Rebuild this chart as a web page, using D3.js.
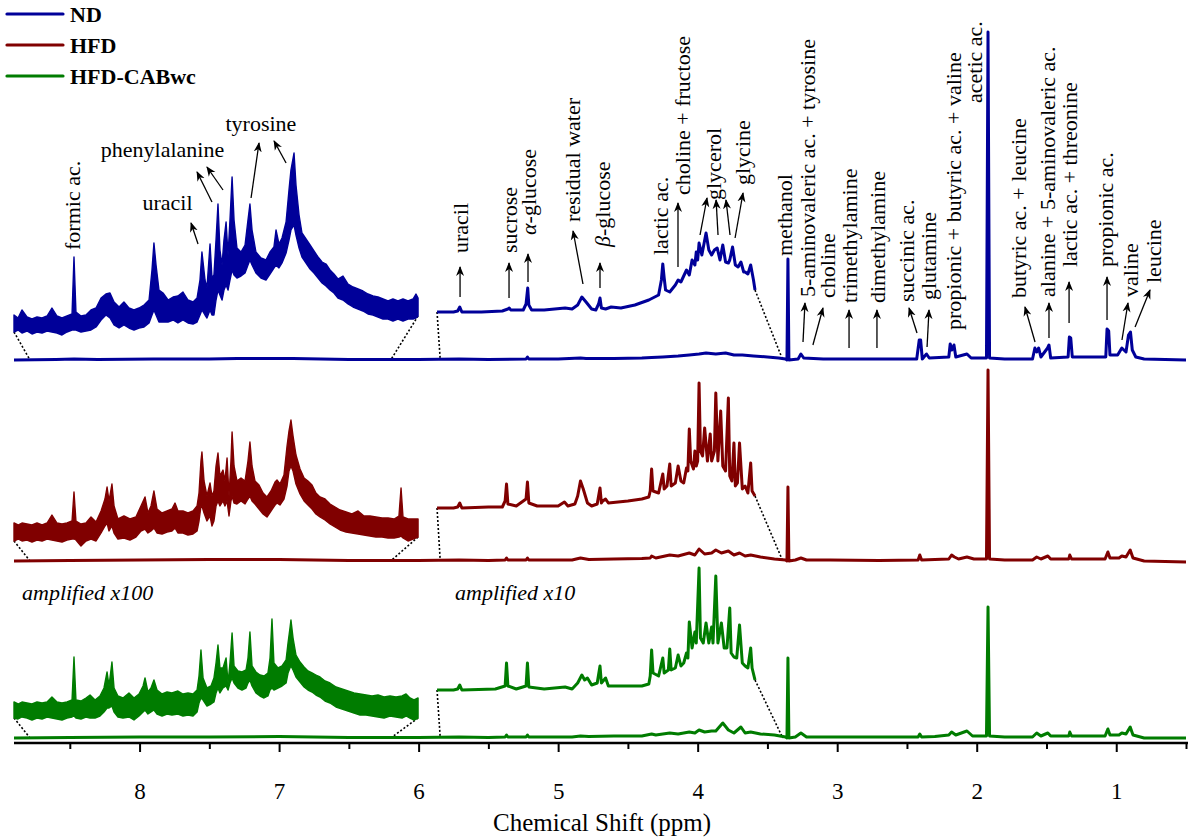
<!DOCTYPE html>
<html>
<head>
<meta charset="utf-8">
<script src="https://cdn.jsdelivr.net/npm/d3@7"></script>
<style>
  body { margin: 0; background: #fff; }
  svg { display: block; font-family: "Liberation Serif", "DejaVu Serif", serif; }
  svg text { font-family: "Liberation Serif", "DejaVu Serif", serif; }
</style>
</head>
<body>
<svg id="chart" width="1188" height="838"></svg>
<script>
// ---- data (chemical shift in ppm, intensity in display units above each trace baseline) ----
const groups = ["ND", "HFD", "HFD-CABwc"];
const colors = ["#000099", "#800000", "#007c00"];
const majorTicks = [8, 7, 6, 5, 4, 3, 2, 1];
const minorTicks = [8.5, 7.5, 6.5, 5.5, 4.5, 3.5, 2.5, 1.5, 0.5];

// full spectra
const ndMain = [[8.90,0],[8.6,0.5],[8.47,1],[8.3,0.5],[7.9,1],[7.5,1],[7.3,1.5],[6.9,1.5],[6.5,0.5],[6.0,0.5],[5.71,1],[5.5,0.5],[5.23,1],[5.22,3],[5.21,1],[5.0,1],[4.84,2],[4.80,1.5],[4.6,1.5],[4.40,2],[4.33,2.5],[4.25,3],[4.14,4],[4.06,5],[3.99,6],[3.94,7],[3.87,6],[3.80,7],[3.74,5],[3.68,5],[3.60,4],[3.50,3],[3.42,2],[3.37,1],[3.36,0],[3.353,101],[3.346,0],[3.28,1],[3.26,6],[3.24,2],[3.10,1],[2.9,1],[2.7,1],[2.43,1],[2.412,20],[2.402,20],[2.39,1],[2.36,6],[2.34,2],[2.20,3],[2.19,16],[2.178,10],[2.163,15],[2.15,3],[2.07,6],[2.04,2],[1.93,2],[1.919,328],[1.908,2],[1.8,1],[1.6,1],[1.583,12],[1.570,8],[1.556,12],[1.54,3],[1.492,12],[1.482,15],[1.47,2],[1.345,3],[1.336,23],[1.326,22],[1.315,3],[1.075,3],[1.066,31],[1.054,29],[1.045,5],[0.99,5],[0.96,12],[0.93,8],[0.912,25],[0.898,28],[0.885,10],[0.86,3],[0.8,1],[0.5,0]];
const hfdMain = [[8.90,0],[8.5,0.5],[8.0,1],[7.5,1.5],[7.0,1.5],[6.5,0.5],[6.0,0.5],[5.71,1],[5.5,0.5],[5.38,1],[5.37,3],[5.36,1],[5.23,1],[5.22,3],[5.21,1],[4.9,1],[4.84,3],[4.78,1.5],[4.6,2],[4.4,2.5],[4.34,3],[4.33,5],[4.30,3],[4.20,6],[4.14,5],[4.06,8],[4.02,6],[3.99,12],[3.95,7],[3.90,8],[3.87,11],[3.83,8],[3.78,10],[3.74,6],[3.70,8],[3.66,5],[3.62,6],[3.55,4],[3.45,2],[3.37,1],[3.36,0],[3.353,74],[3.346,0],[3.30,1],[3.26,3],[3.22,1],[3.05,1],[2.7,0.5],[2.42,1],[2.408,6],[2.395,1],[2.3,1.5],[2.2,2],[2.18,6],[2.16,4],[2.13,2],[2.07,4],[2.02,2],[1.93,2],[1.919,191],[1.908,2],[1.8,1],[1.6,1],[1.57,4],[1.54,2],[1.49,5],[1.47,2],[1.34,2],[1.333,6],[1.32,2],[1.08,2],[1.06,9],[1.045,3],[0.98,3],[0.96,5],[0.93,4],[0.90,11],[0.88,3],[0.8,0],[0.5,-1]];
const cabMain = [[8.90,0],[8.5,0.5],[8.0,1],[7.5,1],[7.0,1.5],[6.5,0.5],[6.0,0.5],[5.71,1],[5.5,0.5],[5.38,1],[5.37,3],[5.36,1],[5.23,1],[5.22,3],[5.21,1],[4.9,1],[4.84,2],[4.78,1.5],[4.6,2],[4.4,2],[4.33,4],[4.30,3],[4.20,5],[4.14,4],[4.06,6],[4.02,5],[3.99,8],[3.95,6],[3.90,7],[3.87,7],[3.82,15],[3.78,8],[3.74,5],[3.69,11],[3.66,5],[3.62,6],[3.55,4],[3.45,3],[3.37,1],[3.36,0],[3.353,80],[3.346,0],[3.30,1],[3.26,5],[3.22,1],[3.05,1],[2.7,1],[2.42,1],[2.408,4],[2.395,1],[2.3,1.5],[2.2,3],[2.18,6],[2.15,3],[2.07,7],[2.03,2],[1.93,2],[1.919,131],[1.908,2],[1.8,1],[1.6,1],[1.57,5],[1.54,2],[1.49,5],[1.47,2],[1.34,2],[1.333,6],[1.32,2],[1.08,2],[1.06,9],[1.045,3],[0.98,3],[0.96,5],[0.93,4],[0.90,11],[0.88,3],[0.8,0],[0.5,0]];

// amplified x100 region, [ppm, low, high] of the noisy trace
const ndX100 = [[8.90,28,45],[8.871,30,42],[8.843,27,50],[8.807,29,43],[8.771,26,41],[8.735,28,43],[8.699,27,42],[8.663,29,44],[8.628,28,52],[8.592,27,44],[8.556,25,42],[8.520,28,44],[8.484,30,46],[8.470,30,103],[8.456,30,48],[8.420,28,44],[8.384,29,45],[8.348,30,50],[8.312,33,52],[8.276,40,62],[8.241,45,66],[8.212,42,67],[8.183,35,58],[8.147,32,53],[8.112,35,58],[8.076,32,52],[8.040,30,50],[8.004,32,52],[7.968,33,55],[7.932,37,60],[7.911,45,90],[7.897,50,117],[7.882,45,95],[7.861,38,70],[7.832,38,67],[7.796,38,60],[7.760,40,63],[7.725,37,64],[7.689,40,68],[7.653,37,60],[7.617,36,58],[7.588,38,62],[7.567,45,80],[7.553,50,108],[7.531,45,80],[7.517,42,72],[7.495,50,116],[7.481,45,82],[7.467,45,85],[7.452,60,120],[7.438,70,156],[7.424,65,110],[7.409,60,95],[7.395,70,120],[7.380,75,138],[7.366,70,105],[7.352,80,140],[7.337,90,183],[7.323,85,140],[7.302,82,112],[7.273,84,108],[7.244,87,115],[7.223,95,140],[7.209,100,156],[7.194,95,130],[7.166,87,108],[7.130,82,102],[7.094,80,100],[7.065,86,108],[7.037,92,113],[7.022,95,130],[7.001,92,116],[6.979,97,122],[6.950,107,138],[6.929,120,170],[6.915,130,190],[6.893,135,207],[6.879,125,175],[6.857,112,145],[6.836,103,127],[6.807,97,121],[6.778,91,115],[6.750,87,109],[6.721,82,103],[6.692,77,98],[6.664,74,96],[6.635,70,90],[6.607,67,86],[6.578,62,81],[6.542,60,84],[6.506,56,76],[6.470,53,73],[6.434,51,71],[6.399,49,69],[6.363,46,66],[6.327,45,64],[6.291,43,63],[6.255,41,61],[6.219,41,59],[6.184,39,61],[6.148,41,59],[6.112,39,61],[6.076,41,59],[6.040,41,61],[6.019,42,66],[6.004,44,62]];
const hfdX100 = [[8.90,20,38],[8.871,22,36],[8.843,20,38],[8.807,21,37],[8.771,19,36],[8.735,21,38],[8.699,20,36],[8.663,22,38],[8.628,21,46],[8.592,20,38],[8.556,19,37],[8.520,21,38],[8.484,22,40],[8.470,22,69],[8.456,21,40],[8.420,15,37],[8.384,20,38],[8.348,22,44],[8.312,20,39],[8.276,28,50],[8.248,35,62],[8.233,38,74],[8.219,30,60],[8.198,35,77],[8.183,28,55],[8.155,22,42],[8.112,23,45],[8.069,21,42],[8.026,24,44],[7.990,30,55],[7.961,32,64],[7.940,28,48],[7.918,30,55],[7.897,33,70],[7.875,28,52],[7.839,27,48],[7.803,29,50],[7.768,30,52],[7.746,33,58],[7.725,28,50],[7.689,28,50],[7.653,26,48],[7.617,27,50],[7.588,30,55],[7.574,40,68],[7.560,55,100],[7.553,55,109],[7.538,48,80],[7.517,40,65],[7.495,45,78],[7.481,35,65],[7.467,40,70],[7.452,55,95],[7.438,60,108],[7.424,55,85],[7.402,60,91],[7.388,55,80],[7.373,60,103],[7.359,45,65],[7.345,60,100],[7.337,65,129],[7.323,58,95],[7.302,57,80],[7.273,60,83],[7.244,57,80],[7.223,62,100],[7.209,65,119],[7.194,60,95],[7.173,57,80],[7.144,52,76],[7.115,47,68],[7.087,44,64],[7.058,50,70],[7.029,56,79],[7.015,58,81],[6.994,56,77],[6.965,62,86],[6.943,75,115],[6.929,90,130],[6.915,95,141],[6.900,90,125],[6.879,77,106],[6.850,67,92],[6.821,60,83],[6.793,56,80],[6.764,52,76],[6.736,47,68],[6.707,44,64],[6.671,41,62],[6.635,37,57],[6.599,34,54],[6.563,31,51],[6.520,29,49],[6.478,28,47],[6.434,27,50],[6.392,26,45],[6.349,25,45],[6.306,24,44],[6.262,24,43],[6.219,23,43],[6.176,23,42],[6.141,24,45],[6.126,25,73],[6.112,23,44],[6.076,20,42],[6.040,22,42],[6.004,24,42]];
const cabX100 = [[8.90,20,36],[8.871,19,34],[8.843,21,36],[8.807,20,35],[8.771,18,34],[8.735,20,36],[8.699,19,35],[8.663,21,36],[8.628,20,41],[8.592,19,36],[8.556,18,35],[8.520,20,36],[8.484,21,38],[8.470,22,81],[8.456,20,38],[8.420,19,37],[8.384,21,40],[8.355,20,43],[8.319,20,38],[8.284,22,42],[8.255,26,50],[8.233,30,66],[8.219,30,52],[8.198,32,76],[8.183,26,50],[8.155,21,42],[8.119,20,40],[8.076,21,45],[8.040,18,40],[8.004,22,44],[7.975,26,52],[7.961,28,60],[7.940,24,46],[7.918,26,50],[7.897,28,58],[7.875,24,48],[7.839,22,44],[7.803,24,46],[7.768,23,45],[7.725,24,47],[7.689,22,44],[7.653,23,45],[7.617,22,44],[7.588,26,48],[7.574,35,62],[7.560,40,88],[7.545,38,60],[7.517,32,50],[7.488,34,52],[7.467,36,60],[7.452,45,75],[7.438,50,93],[7.424,45,70],[7.402,50,70],[7.380,52,80],[7.366,48,55],[7.352,55,75],[7.337,60,105],[7.323,55,72],[7.295,50,67],[7.266,48,66],[7.237,50,68],[7.223,55,80],[7.209,58,106],[7.194,52,72],[7.166,45,66],[7.137,42,63],[7.108,40,62],[7.080,42,65],[7.065,48,80],[7.051,50,119],[7.037,48,75],[7.008,50,70],[6.979,52,72],[6.950,55,78],[6.936,65,95],[6.922,70,110],[6.915,72,118],[6.900,68,100],[6.879,61,83],[6.850,56,76],[6.821,51,71],[6.793,48,67],[6.764,46,65],[6.736,43,63],[6.707,41,61],[6.671,37,57],[6.635,35,55],[6.592,31,51],[6.549,29,49],[6.506,27,47],[6.463,25,45],[6.420,23,44],[6.377,23,43],[6.334,22,42],[6.291,21,43],[6.248,20,41],[6.205,22,42],[6.162,21,41],[6.119,20,42],[6.090,22,44],[6.062,20,40],[6.033,18,38],[6.004,20,40]];

// amplified x10 region, [ppm, value]
const ndX10 = [[5.868,48],[5.75,48],[5.72,49],[5.705,53],[5.69,48],[5.55,48],[5.40,49],[5.36,51],[5.35,52],[5.34,50],[5.25,50],[5.23,56],[5.218,72],[5.21,55],[5.19,50],[5.10,50],[4.95,52],[4.90,51],[4.86,55],[4.83,63],[4.80,58],[4.76,51],[4.73,50],[4.71,56],[4.70,62],[4.69,52],[4.66,51],[4.62,53],[4.55,52],[4.45,55],[4.35,60],[4.28,65],[4.26,80],[4.25,96],[4.24,82],[4.23,70],[4.20,68],[4.16,75],[4.14,80],[4.12,78],[4.08,90],[4.06,85],[4.04,100],[4.02,95],[4.01,108],[4.00,100],[3.99,117],[3.97,105],[3.94,127],[3.92,110],[3.90,105],[3.88,110],[3.86,112],[3.84,100],[3.82,115],[3.80,98],[3.78,97],[3.77,100],[3.75,113],[3.73,95],[3.71,93],[3.69,98],[3.67,88],[3.66,88],[3.64,86],[3.62,95],[3.60,80],[3.589,70]];
const hfdX10 = [[5.868,53],[5.75,53],[5.72,54],[5.705,58],[5.69,53],[5.50,54],[5.40,54],[5.38,60],[5.37,77],[5.36,57],[5.30,55],[5.23,62],[5.22,79],[5.21,58],[5.15,55],[5.00,55],[4.955,59],[4.93,55],[4.88,57],[4.86,65],[4.84,80],[4.82,72],[4.79,58],[4.76,55],[4.72,57],[4.70,73],[4.69,58],[4.68,60],[4.66,62],[4.64,58],[4.50,60],[4.40,62],[4.35,64],[4.34,70],[4.33,92],[4.32,70],[4.28,68],[4.25,87],[4.24,72],[4.22,75],[4.20,97],[4.19,75],[4.16,78],[4.14,95],[4.12,80],[4.10,78],[4.08,93],[4.07,90],[4.06,132],[4.05,100],[4.03,92],[4.02,110],[4.01,95],[4.00,100],[3.99,178],[3.98,110],[3.965,105],[3.95,133],[3.93,100],[3.91,127],[3.90,100],[3.88,110],[3.87,168],[3.855,100],[3.835,150],[3.82,95],[3.80,90],[3.78,163],[3.77,85],[3.755,80],[3.74,118],[3.73,75],[3.715,78],[3.70,118],[3.68,72],[3.66,75],[3.64,68],[3.62,98],[3.61,70],[3.589,65]];
const cabX10 = [[5.868,48],[5.75,48],[5.72,49],[5.705,53],[5.69,48],[5.45,49],[5.38,52],[5.37,75],[5.36,52],[5.30,49],[5.23,52],[5.22,75],[5.21,51],[5.10,49],[4.95,51],[4.90,49],[4.86,55],[4.83,63],[4.81,58],[4.79,60],[4.76,53],[4.72,55],[4.70,72],[4.69,55],[4.66,60],[4.64,52],[4.50,52],[4.40,52],[4.35,54],[4.34,62],[4.33,88],[4.32,65],[4.28,62],[4.25,80],[4.24,65],[4.21,68],[4.20,89],[4.19,68],[4.16,70],[4.14,83],[4.12,72],[4.10,75],[4.08,85],[4.07,80],[4.06,116],[4.04,90],[4.02,106],[4.01,95],[3.99,170],[3.98,100],[3.96,95],[3.94,115],[3.92,95],[3.90,111],[3.89,95],[3.87,162],[3.855,95],[3.83,115],[3.81,90],[3.79,90],[3.77,130],[3.76,85],[3.74,81],[3.72,80],[3.70,113],[3.68,75],[3.66,72],[3.64,70],[3.62,90],[3.61,70],[3.589,58]];

// where the dotted guide lines meet the full spectrum (x100 left, x100 right, x10 left, x10 right)
const guideFeet = [8.785, 6.20, 5.845, 3.39];

// assignments: rotated labels [text, ppm, bottom y]
const rotLabels = [
  ["formic ac.", 8.484, 250], ["uracil", 5.703, 253], ["sucrose", 5.352, 253],
  ["α|-glucose", 5.216, 235], ["residual water", 4.901, 222], ["β|-glucose", 4.686, 247],
  ["lactic ac.", 4.270, 255], ["choline + fructose", 4.112, 195], ["glycerol", 3.890, 200],
  ["glycine", 3.682, 185], ["methanol", 3.381, 256], ["5-aminovaleric ac. + tyrosine", 3.216, 297],
  ["choline", 3.073, 298], ["trimethylamine", 2.915, 303], ["dimethylamine", 2.715, 303],
  ["succinic ac.", 2.507, 302], ["glutamine", 2.349, 300], ["propionic + butyric ac. + valine", 2.170, 330],
  ["acetic ac.", 2.019, 103], ["butyric ac. + leucine", 1.704, 298], ["alanine + 5-aminovaleric ac.", 1.496, 297],
  ["lactic ac. + threonine", 1.338, 267], ["propionic ac.", 1.080, 267], ["valine", 0.901, 297],
  ["leucine", 0.737, 283]
];
// horizontal labels [text, ppm of centre, baseline y]
const flatLabels = [["phenylalanine", 7.836, 157], ["uracil", 7.80, 210], ["tyrosine", 7.13, 131]];
// arrows [ppm tail, y tail, ppm tip, y tip]
const arrows = [
  [7.481,202,7.588,172],[7.402,190,7.517,167],[7.581,244,7.631,223],[7.201,198,7.144,143],[6.950,163,7.036,141],
  [5.703,297,5.703,267],[5.352,298,5.352,263],[5.216,282,5.216,254],[4.822,284,4.893,231],[4.700,288,4.700,263],
  [4.141,267,4.141,203],[3.983,235,3.933,198],[3.854,235,3.868,200],[3.768,235,3.797,200],[3.732,238,3.675,193],
  [3.245,342,3.231,303],[3.174,345,3.102,308],[2.915,348,2.915,310],[2.715,348,2.715,310],[2.428,333,2.485,308],
  [2.356,347,2.342,310],[1.582,342,1.654,307],[1.482,338,1.482,303],[1.338,323,1.338,282],[1.066,320,1.066,277],
  [0.959,340,0.916,303],[0.865,327,0.758,290]
];

// ---- drawing ----
const svg = d3.select("#chart");
const x = d3.scaleLinear().domain([8.9, 0.5]).range([14, 1186]);
const bases = [360, 561, 738];

const defs = svg.append("defs");
defs.append("marker")
    .attr("id", "head")
    .attr("viewBox", "0 0 10 10")
    .attr("refX", 9).attr("refY", 5)
    .attr("markerWidth", 10).attr("markerHeight", 10)
    .attr("markerUnits", "userSpaceOnUse")
    .attr("orient", "auto")
  .append("path")
    .attr("d", "M0,1 L10,5 L0,9 L3,5 Z")
    .attr("fill", "#000");

const spectra = [
  { main: ndMain, x100: ndX100, x10: ndX10 },
  { main: hfdMain, x100: hfdX100, x10: hfdX10 },
  { main: cabMain, x100: cabX100, x10: cabX10 }
];

spectra.forEach((s, i) => {
  const y = d3.scaleLinear().domain([0, 100]).range([bases[i], bases[i] - 100]);
  const g = svg.append("g");
  const col = colors[i];

  // dotted guides
  const guides = [
    [s.x100[0][0], s.x100[0][1], guideFeet[0]],
    [s.x100[s.x100.length - 1][0], s.x100[s.x100.length - 1][1], guideFeet[1]],
    [s.x10[0][0], s.x10[0][1], guideFeet[2]],
    [s.x10[s.x10.length - 1][0], s.x10[s.x10.length - 1][1], guideFeet[3]]
  ];
  g.selectAll(".guide").data(guides).enter().append("line")
      .attr("x1", d => x(d[0])).attr("y1", d => y(d[1]))
      .attr("x2", d => x(d[2])).attr("y2", y(0))
      .attr("stroke", "#000").attr("stroke-width", 1.6)
      .attr("stroke-dasharray", "2,2");

  g.append("path")
      .datum(s.main)
      .attr("d", d3.line().x(d => x(d[0])).y(d => y(d[1])))
      .attr("fill", "none").attr("stroke", col).attr("stroke-width", 3)
      .attr("stroke-linejoin", "round");

  g.append("path")
      .datum(s.x100)
      .attr("d", d3.area().x(d => x(d[0])).y0(d => y(d[1])).y1(d => y(d[2])))
      .attr("fill", col).attr("stroke", col).attr("stroke-width", 1.4)
      .attr("stroke-linejoin", "round");

  g.append("path")
      .datum(s.x10)
      .attr("d", d3.line().x(d => x(d[0])).y(d => y(d[1])))
      .attr("fill", "none").attr("stroke", col).attr("stroke-width", 3)
      .attr("stroke-linejoin", "round");
});

// axis
const axisG = svg.append("g").attr("transform", "translate(0,743)");
axisG.append("g")
    .call(d3.axisBottom(x).tickValues(minorTicks).tickSize(6).tickSizeOuter(0).tickFormat(""))
    .call(a => a.select(".domain").remove())
    .selectAll("line").attr("stroke-width", 2);
const major = axisG.append("g")
    .call(d3.axisBottom(x).tickValues(majorTicks).tickSize(9).tickSizeOuter(0).tickFormat(d3.format("d")));
major.attr("font-family", null).style("font-family", "'Liberation Serif', serif");
major.select(".domain").attr("stroke-width", 2.6).attr("d", "M14,0H1188");
major.selectAll("line").attr("stroke-width", 2);
major.selectAll("text")
    .attr("y", 40)
    .style("font-family", "'Liberation Serif', serif")
    .attr("font-size", 23)
    .attr("fill", "#000");

svg.append("text")
    .attr("x", 602).attr("y", 831)
    .attr("text-anchor", "middle")
    .attr("font-size", 25)
    .text("Chemical Shift (ppm)");

// legend
const leg = svg.append("g");
groups.forEach((name, i) => {
  const ly = 14 + i * 31;
  leg.append("line").attr("x1", 7).attr("x2", 63).attr("y1", ly).attr("y2", ly)
      .attr("stroke", colors[i]).attr("stroke-width", 3.2).attr("stroke-linecap", "round");
  leg.append("text").attr("x", 70).attr("y", ly + 8)
      .attr("font-size", 22).attr("font-weight", "bold").text(name);
});

// amplification notes
svg.append("text").attr("x", 22).attr("y", 600).attr("font-size", 22)
    .attr("font-style", "italic").text("amplified x100");
svg.append("text").attr("x", 455).attr("y", 600).attr("font-size", 22)
    .attr("font-style", "italic").text("amplified x10");

// assignments
const ann = svg.append("g").attr("font-size", 22).attr("fill", "#000");
rotLabels.forEach(([t, p, yb]) => {
  const txt = ann.append("text")
      .attr("transform", `translate(${x(p)},${yb}) rotate(-90)`)
      .attr("dy", "0.35em");
  const parts = t.split("|");
  if (parts.length > 1) {
    txt.append("tspan").attr("font-style", "italic").text(parts[0]);
    txt.append("tspan").text(parts[1]);
  } else {
    txt.text(t);
  }
});
flatLabels.forEach(([t, p, yb]) => {
  ann.append("text").attr("x", x(p)).attr("y", yb).attr("text-anchor", "middle").text(t);
});
ann.selectAll(".arrow").data(arrows).enter().append("line")
    .attr("x1", d => x(d[0])).attr("y1", d => d[1])
    .attr("x2", d => x(d[2])).attr("y2", d => d[3])
    .attr("stroke", "#000").attr("stroke-width", 1.3)
    .attr("marker-end", "url(#head)");
</script>
</body>
</html>
